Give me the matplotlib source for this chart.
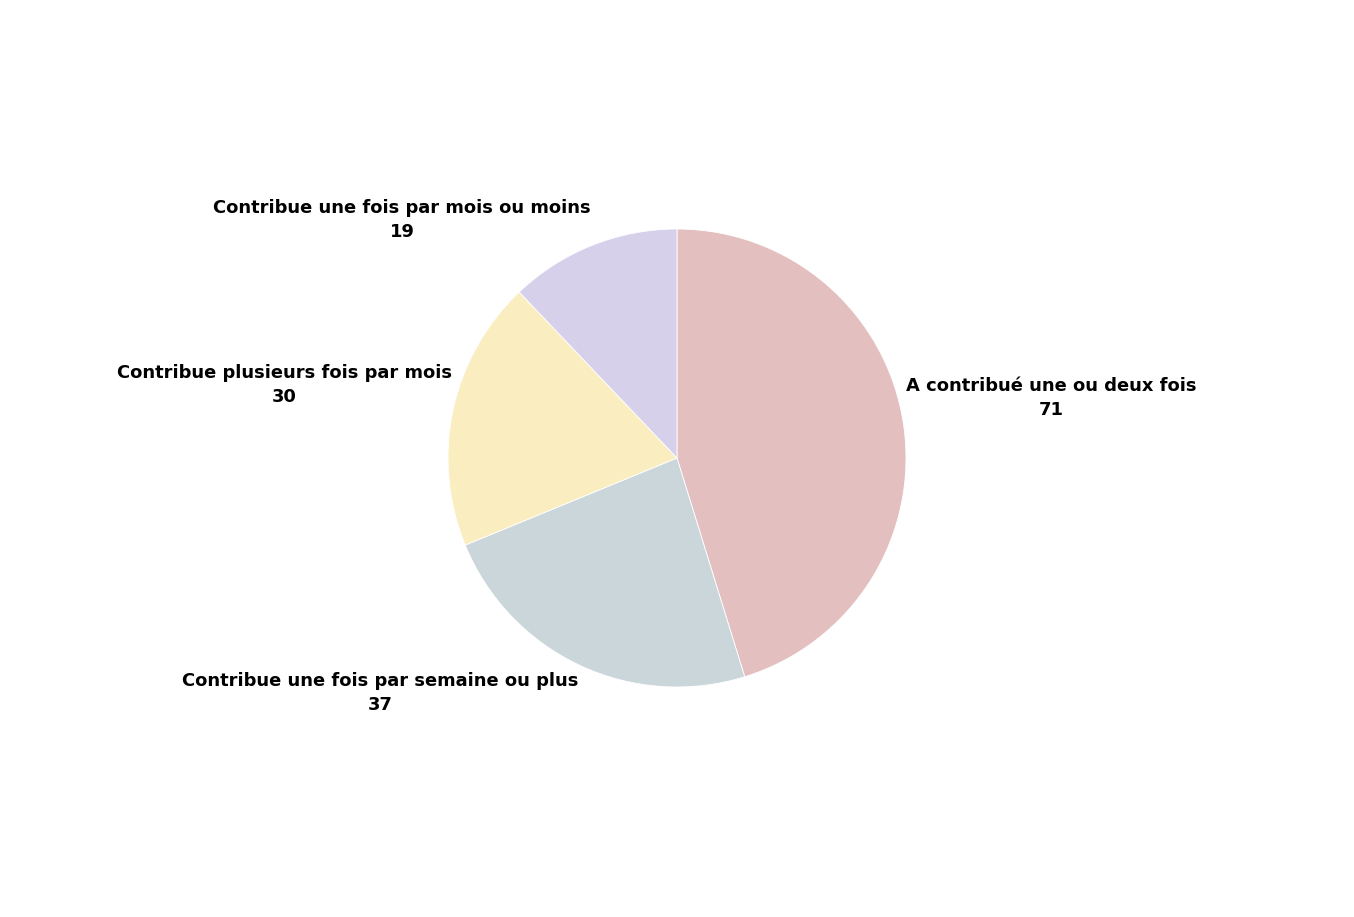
import numpy as np
import matplotlib.pyplot as plt

labels = ["A contribué une ou deux fois",
          "Contribue une fois par semaine ou plus",
          "Contribue plusieurs fois par mois",
          "Contribue une fois par mois ou moins"]
valeurs = [71, 37, 30, 19]
couleurs = ["#E3BFBF", "#CBD6DA", "#FAEDC0", "#D6D0EB"]

fig = plt.figure(figsize=(13.54, 9.17), dpi=100)
ax = fig.add_axes([0, 0, 1, 1])

wedges, _ = ax.pie(valeurs, colors=couleurs, startangle=90, counterclock=False,
                   radius=1, wedgeprops=dict(edgecolor="white", linewidth=0.6))

for w, lab, v in zip(wedges, labels, valeurs):
    ang = np.deg2rad((w.theta1 + w.theta2) / 2)
    x, y = np.cos(ang), np.sin(ang)
    ha = "left" if x > 0 else "right"
    va = "bottom" if y > 0 else "top"
    dx = 0.01 if x > 0 else -0.005
    dy = 0.02 if y > 0 else -0.03
    ax.text(x + dx, y + dy, f"{lab}\n{v}", ha=ha, va=va, multialignment="center",
            fontsize=12.9, fontweight="bold", family=["DejaVu Sans"],
            linespacing=1.42)

ax.set_xlim(-677 / 229, 677 / 229)
ax.set_ylim(-459 / 229, 458 / 229)
ax.set_aspect("equal")
ax.axis("off")

fig.savefig("out.png", dpi=100)
